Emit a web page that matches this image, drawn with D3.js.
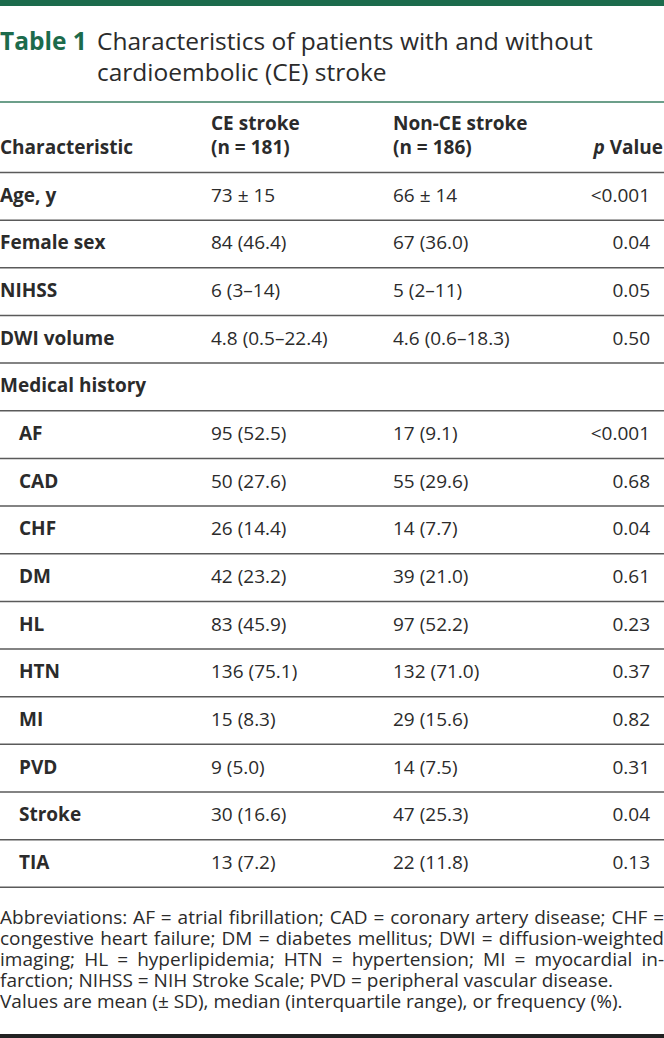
<!DOCTYPE html>
<html>
<head>
<meta charset="utf-8">
<script src="https://cdn.jsdelivr.net/npm/d3@7"></script>
<style>
  html, body { margin: 0; padding: 0; background: #fff; }
  svg { display: block; font-family: "Open Sans", "Noto Sans", sans-serif; }
</style>
</head>
<body>
<svg id="chart" width="664" height="1038"></svg>
<script>
// ---- Data ----
const tableNumber = "Table 1";
const titleLines = ["Characteristics of patients with and without", "cardioembolic (CE) stroke"];
const columnHeaders = [
  ["Characteristic"],
  ["CE stroke", "(n = 181)"],
  ["Non-CE stroke", "(n = 186)"],
  ["p Value"]
];
const baselineLabels = ["Age, y", "Female sex", "NIHSS", "DWI volume"];
const baselineCE = ["73 ± 15", "84 (46.4)", "6 (3–14)", "4.8 (0.5–22.4)"];
const baselineNonCE = ["66 ± 14", "67 (36.0)", "5 (2–11)", "4.6 (0.6–18.3)"];
const baselineP = ["<0.001", "0.04", "0.05", "0.50"];
const groupLabel = "Medical history";
const historyLabels = ["AF", "CAD", "CHF", "DM", "HL", "HTN", "MI", "PVD", "Stroke", "TIA"];
const historyCE = ["95 (52.5)", "50 (27.6)", "26 (14.4)", "42 (23.2)", "83 (45.9)", "136 (75.1)", "15 (8.3)", "9 (5.0)", "30 (16.6)", "13 (7.2)"];
const historyNonCE = ["17 (9.1)", "55 (29.6)", "14 (7.7)", "39 (21.0)", "97 (52.2)", "132 (71.0)", "29 (15.6)", "14 (7.5)", "47 (25.3)", "22 (11.8)"];
const historyP = ["<0.001", "0.68", "0.04", "0.61", "0.23", "0.37", "0.82", "0.31", "0.04", "0.13"];
const footnoteLines = [
  "Abbreviations: AF = atrial fibrillation; CAD = coronary artery disease; CHF =",
  "congestive heart failure; DM = diabetes mellitus; DWI = diffusion-weighted",
  "imaging; HL = hyperlipidemia; HTN = hypertension; MI = myocardial in-",
  "farction; NIHSS = NIH Stroke Scale; PVD = peripheral vascular disease.",
  "Values are mean (± SD), median (interquartile range), or frequency (%)."
];

// ---- Build rows ----
const rows = [];
baselineLabels.forEach((l, i) => rows.push({label: l, ce: baselineCE[i], non: baselineNonCE[i], p: baselineP[i], sub: false}));
rows.push({label: groupLabel, ce: "", non: "", p: "", sub: false});
historyLabels.forEach((l, i) => rows.push({label: l, ce: historyCE[i], non: historyNonCE[i], p: historyP[i], sub: true}));

const W = 664, H = 1038;
const green = "#1c6b4c";
const ink = "#2b2b2b";
const rule = "#5a5a5a";
const svg = d3.select("#chart");

// scales
const y = d3.scaleBand().domain(rows.map((d, i) => i)).range([172.5, 887.3]).padding(0);
const x = d3.scaleOrdinal().domain(["label", "ce", "non", "p"]).range([0, 211, 393, 650]);

// top bar
svg.append("rect").attr("x", 0).attr("y", 0).attr("width", W).attr("height", 6).attr("fill", green);

// title
const titleFs = 24.5;
svg.append("text").attr("x", 0).attr("y", 50).attr("font-size", titleFs).attr("font-weight", 700).attr("fill", green).text(tableNumber);
svg.append("text").attr("x", 97).attr("y", 50).attr("font-size", titleFs).attr("fill", ink).text(titleLines[0]);
svg.append("text").attr("x", 97).attr("y", 81).attr("font-size", titleFs).attr("fill", ink).text(titleLines[1]);

// rule under title
svg.append("line").attr("x1", 0).attr("x2", W).attr("y1", 102).attr("y2", 102).attr("stroke", "#3b7f63").attr("stroke-width", 1.5);

// headers
const hdrFont = 19;
const hdr = svg.append("g").attr("font-weight", 700).attr("font-size", hdrFont).attr("fill", ink);
hdr.append("text").attr("x", x("label")).attr("y", 154).text(columnHeaders[0][0]);
columnHeaders[1].forEach((s, i) => hdr.append("text").attr("x", x("ce")).attr("y", 130 + i * 24).text(s));
columnHeaders[2].forEach((s, i) => hdr.append("text").attr("x", x("non")).attr("y", 130 + i * 24).text(s));
const pv = hdr.append("text").attr("x", W - 1).attr("y", 154).attr("text-anchor", "end");
pv.append("tspan").attr("font-style", "italic").text("p");
pv.append("tspan").text(" Value");

// row rules
svg.append("g").selectAll("line").data(rows.map((d, i) => i).concat([-1])).join("line")
  .attr("x1", 0).attr("x2", W)
  .attr("y1", d => d < 0 ? y(0) : y(d) + y.bandwidth())
  .attr("y2", d => d < 0 ? y(0) : y(d) + y.bandwidth())
  .attr("stroke", rule).attr("stroke-width", 1.5);

// row cells
const fs = 19;
const rg = svg.append("g").attr("font-size", fs).attr("fill", ink);
const rowG = rg.selectAll("g").data(rows).join("g")
  .attr("transform", (d, i) => `translate(0,${y(i) + y.bandwidth() / 2 + 5.5})`);
rowG.append("text").attr("x", d => d.sub ? 19 : 0).attr("font-weight", 700).text(d => d.label);
rowG.append("text").attr("x", x("ce")).text(d => d.ce);
rowG.append("text").attr("x", x("non")).text(d => d.non);
rowG.append("text").attr("x", x("p")).attr("text-anchor", "end").text(d => d.p);

// footnote
const fn = svg.append("g").attr("font-size", 19).attr("fill", ink);
footnoteLines.forEach((s, i) => {
  const t = fn.append("text").attr("x", 0).attr("y", 924 + i * 21).text(s);
  if (i < 3) {
    const w = t.node().getComputedTextLength();
    const spaces = (s.match(/ /g) || []).length;
    t.attr("word-spacing", (W - w) / spaces);
  }
});

// bottom rule
svg.append("rect").attr("x", 0).attr("y", 1034).attr("width", W).attr("height", 4).attr("fill", "#222");
</script>
</body>
</html>
